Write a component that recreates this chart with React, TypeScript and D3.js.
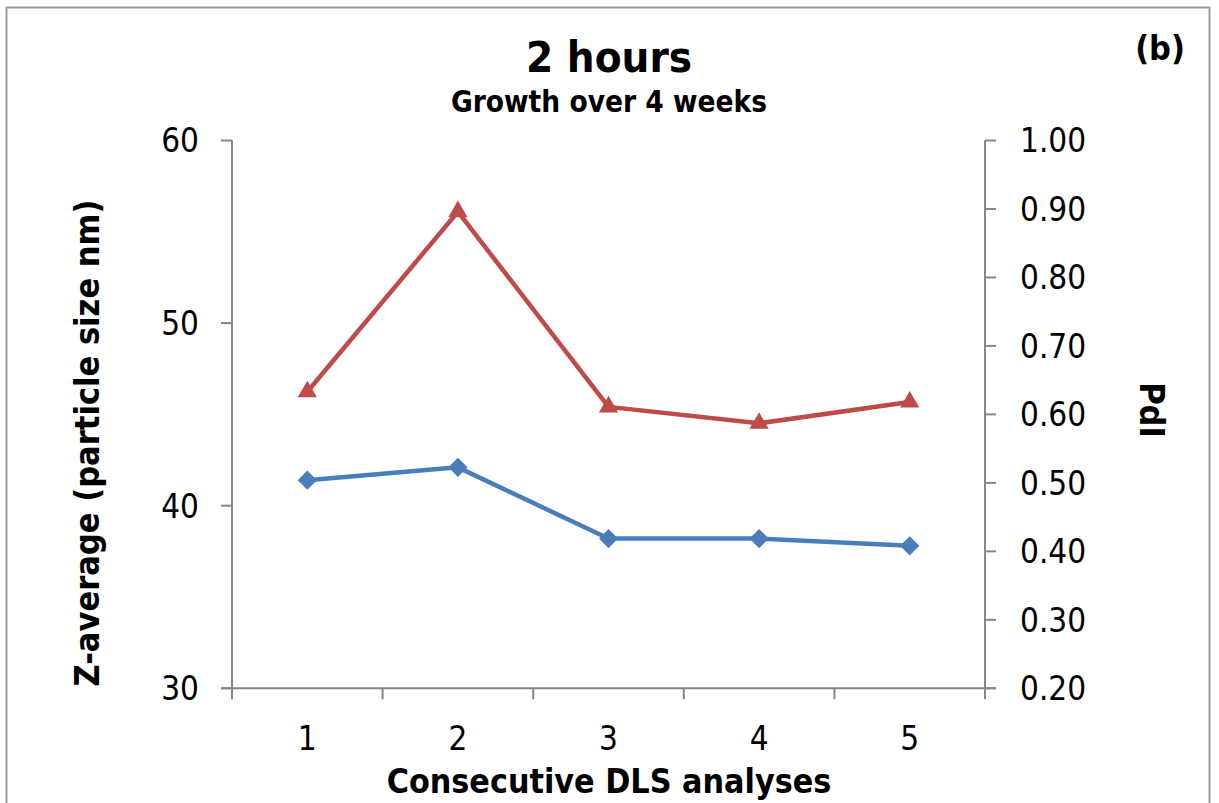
import React from "react";
import * as d3 from "d3";

const categories = ["1", "2", "3", "4", "5"];
const zAverage = [41.4, 42.1, 38.2, 38.2, 37.8];
const pdi = [0.633, 0.896, 0.611, 0.587, 0.618];
const leftTicks = [30, 40, 50, 60];
const rightTicks = [0.2, 0.3, 0.4, 0.5, 0.6, 0.7, 0.8, 0.9, 1.0];

const W = 1219;
const H = 803;
const FONT = "'DejaVu Sans Condensed', 'DejaVu Sans', Verdana, sans-serif";
const AXIS = "#868686";
const BLUE = "#4A7EBB";
const RED = "#BE4B48";

export default function App() {
  const left = 232, right = 985, top = 140.5, bottom = 688.3;
  const x = d3.scaleBand<string>().domain(categories).range([left, right]);
  const yL = d3.scaleLinear().domain([30, 60]).range([bottom, top]);
  const yR = d3.scaleLinear().domain([0.2, 1.0]).range([bottom, top]);
  const cx = (c: string) => (x(c) as number) + x.bandwidth() / 2;

  const blueLine = d3.line<number>().x((_, i) => cx(categories[i])).y((d) => yL(d))(zAverage) as string;
  const redLine = d3.line<number>().x((_, i) => cx(categories[i])).y((d) => yR(d))(pdi) as string;
  const diamond = d3.symbol().type(d3.symbolSquare).size(185)() as string;
  const triangle = d3.symbol().type(d3.symbolTriangle).size(160)() as string;

  const boundaries = [...categories.map((c) => x(c) as number), right];

  return (
    <div style={{ position: "fixed", left: 0, top: 0, width: W, height: H, background: "#fff" }}>
      <svg width={W} height={H} style={{ display: "block", fontFamily: FONT, fontStretch: "condensed" }}>
        <rect x={0} y={0} width={W} height={H} fill="#fff" />
        <rect x={6.5} y={7.5} width={1203} height={H + 20} fill="none" stroke="#9a9a9a" strokeWidth={2} />

        <text x={609} y={72} textAnchor="middle" fontSize={43.5} fontWeight="bold" fill="#000">2 hours</text>
        <text x={609} y={112} textAnchor="middle" fontSize={29.5} fontWeight="bold" fill="#000">Growth over 4 weeks</text>
        <text x={1185} y={60} textAnchor="end" fontSize={34} fontWeight="bold" fill="#000">(b)</text>

        {/* left axis */}
        <line x1={left} y1={top} x2={left} y2={bottom} stroke={AXIS} strokeWidth={2} />
        {leftTicks.map((t) => (
          <g key={"l" + t}>
            <line x1={left - 11} x2={left} y1={yL(t)} y2={yL(t)} stroke={AXIS} strokeWidth={2} />
            <text x={199} y={yL(t)} dy="0.36em" textAnchor="end" fontSize={33} fill="#000">{t}</text>
          </g>
        ))}

        {/* right axis */}
        <line x1={right} y1={top} x2={right} y2={bottom + 10} stroke={AXIS} strokeWidth={2} />
        {rightTicks.map((t) => (
          <g key={"r" + t}>
            <line x1={right} x2={right + 11} y1={yR(t)} y2={yR(t)} stroke={AXIS} strokeWidth={2} />
            <text x={1020} y={yR(t)} dy="0.36em" textAnchor="start" fontSize={33} fill="#000">{t.toFixed(2)}</text>
          </g>
        ))}

        {/* x axis */}
        <line x1={left - 11} x2={right + 11} y1={bottom} y2={bottom} stroke={AXIS} strokeWidth={2} />
        {boundaries.map((b, i) => (
          <line key={"b" + i} x1={b} x2={b} y1={bottom} y2={bottom + 11} stroke={AXIS} strokeWidth={2} />
        ))}
        {categories.map((c) => (
          <text key={"c" + c} x={cx(c)} y={738} dy="0.36em" textAnchor="middle" fontSize={33} fill="#000">{c}</text>
        ))}

        <text x={609} y={793} textAnchor="middle" fontSize={33.7} fontWeight="bold" fill="#000">Consecutive DLS analyses</text>
        <text transform="translate(99,443) rotate(-90)" textAnchor="middle" fontSize={34} fontWeight="bold" fill="#000">Z-average (particle size nm)</text>
        <text transform="translate(1140,410) rotate(90)" textAnchor="middle" fontSize={34} fontWeight="bold" fill="#000">PdI</text>

        {/* series */}
        <path d={redLine} fill="none" stroke={RED} strokeWidth={4.5} strokeLinejoin="round" />
        {pdi.map((v, i) => (
          <path key={"t" + i} d={triangle} transform={`translate(${cx(categories[i])},${yR(v)})`} fill={RED} />
        ))}
        <path d={blueLine} fill="none" stroke={BLUE} strokeWidth={4.5} strokeLinejoin="round" />
        {zAverage.map((v, i) => (
          <path key={"d" + i} d={diamond} transform={`translate(${cx(categories[i])},${yL(v)}) rotate(45)`} fill={BLUE} />
        ))}
      </svg>
    </div>
  );
}
